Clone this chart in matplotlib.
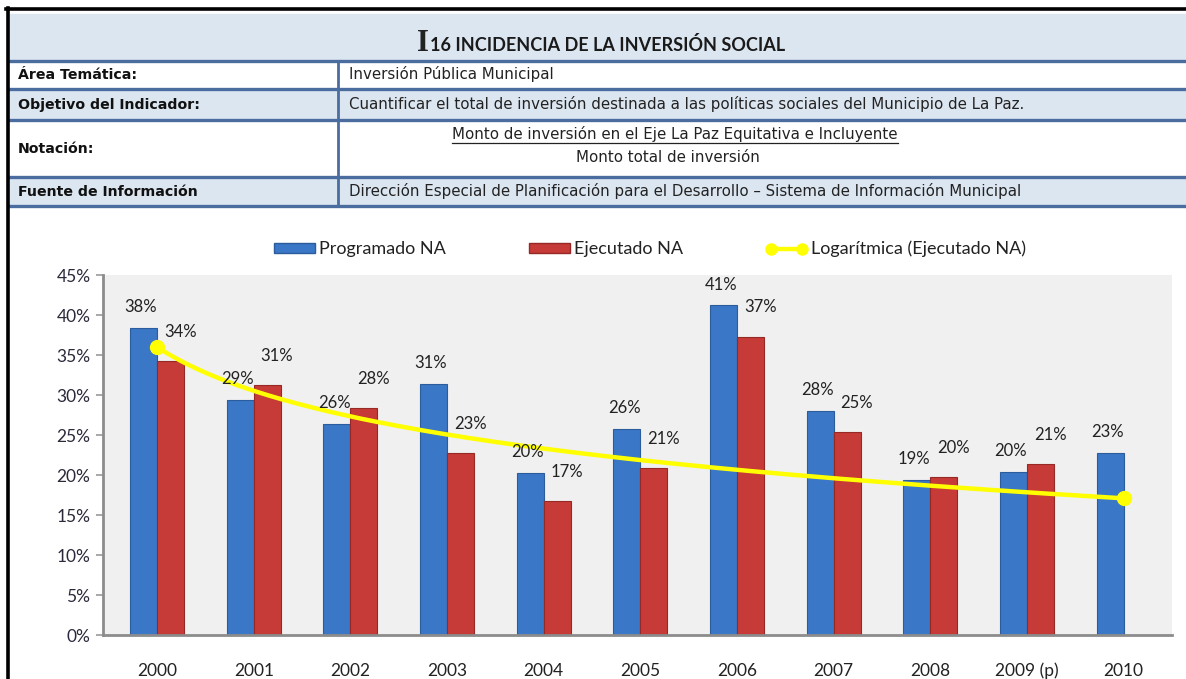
import numpy as np
import matplotlib
matplotlib.use('Agg')
import matplotlib.pyplot as plt
from matplotlib.patches import Rectangle, Patch
from matplotlib.lines import Line2D

plt.rcParams['font.family'] = ['Lato', 'DejaVu Sans']

# ── datos ────────────────────────────────────────────────────────────────────
YEARS      = ['2000', '2001', '2002', '2003', '2004', '2005', '2006', '2007',
              '2008', '2009 (p)', '2010']
PROGRAMADO = [38.4, 29.4, 26.4, 31.4, 20.3, 25.8, 41.2, 28.0, 19.4, 20.4, 22.8]
EJECUTADO  = [34.2, 31.2, 28.4, 22.7, 16.7, 20.9, 37.3, 25.4, 19.7, 21.4, None]
YTICKS     = [0, 5, 10, 15, 20, 25, 30, 35, 40, 45]

ROWS = [('Área Temática:', 'Inversión Pública Municipal'),
        ('Objetivo del Indicador:',
         'Cuantificar el total de inversión destinada a las políticas sociales del Municipio de La Paz.'),
        ('Notación:', None),
        ('Fuente de Información',
         'Dirección Especial de Planificación para el Desarrollo – Sistema de Información Municipal')]
NOT_NUM = 'Monto de inversión en el Eje La Paz Equitativa e Incluyente'
NOT_DEN = 'Monto total de inversión'

BLUE, RED, YEL = '#3a77c6', '#c63a37', '#ffff00'
HDR_BG, LINE_C = '#dce6f1', '#4a6c9e'
TFONT = ['DejaVu Sans']

W, H = 1186, 679
fig = plt.figure(figsize=(W / 100, H / 100), dpi=100)

def fx(x): return x / W
def fy(y): return 1 - y / H

# ── cabecera / tabla ─────────────────────────────────────────────────────────
# bandas de fondo (y en px: top, bottom, color)
bands = [(14, 61, HDR_BG), (61, 89, 'white'), (89, 120, HDR_BG),
         (120, 177, 'white'), (177, 206, HDR_BG)]
for y0, y1, c in bands:
    fig.patches.append(Rectangle((fx(9), fy(y1)), fx(W - 9), (y1 - y0) / H,
                                 transform=fig.transFigure, color=c, zorder=0))
for y in [61, 89, 120, 177, 206]:
    fig.add_artist(Line2D([fx(9), 1], [fy(y), fy(y)], color=LINE_C, lw=2.4))
fig.add_artist(Line2D([fx(338), fx(338)], [fy(61), fy(206)], color=LINE_C, lw=2.0))
# borde negro
fig.add_artist(Line2D([fx(7.5), fx(7.5)], [0, fy(8)], color='black', lw=2.6))
fig.add_artist(Line2D([fx(6), 1], [fy(8.5), fy(8.5)], color='black', lw=2.6))

fig.text(fx(429), fy(51), 'I', ha='right', va='baseline', family='Liberation Serif',
         fontsize=22, fontweight='bold', color='#222')
fig.text(fx(430), fy(51), '16 INCIDENCIA DE LA INVERSIÓN SOCIAL', ha='left', va='baseline',
         fontsize=13, fontweight='bold', color='#1a1a1a')

row_y = [75, 105, 149, 192]
for (lab, val), y in zip(ROWS, row_y):
    fig.text(fx(18), fy(y), lab, ha='left', va='center', fontsize=10.2,
             fontweight='bold', family=TFONT, color='#111')
    if val:
        fig.text(fx(349), fy(y - 1), val, ha='left', va='center', fontsize=10.8,
                 family=TFONT, color='#222')
t_num = fig.text(fx(675), fy(134), NOT_NUM, ha='center', va='center', fontsize=10.8,
                 family=TFONT, color='#222')
fig.text(fx(668), fy(157), NOT_DEN, ha='center', va='center', fontsize=10.8,
         family=TFONT, color='#222')
bb = t_num.get_window_extent(fig.canvas.get_renderer())
fig.add_artist(Line2D([bb.x0 / W, bb.x1 / W], [fy(142.5), fy(142.5)], color='#222', lw=0.9))

# ── gráfico ──────────────────────────────────────────────────────────────────
ax = fig.add_axes([fx(103), fy(635), fx(1172 - 103), (635 - 275) / H])
ax.set_facecolor('#f0f0f0')
x = np.arange(len(YEARS))
w = 0.28
prog = np.array(PROGRAMADO)
ejec_x = np.array([i for i, v in enumerate(EJECUTADO) if v is not None])
ejec = np.array([v for v in EJECUTADO if v is not None])

ax.bar(x - w / 2, prog, w, color=BLUE, edgecolor='#2b5c9c', lw=0.8, zorder=2)
ax.bar(ejec_x + w / 2, ejec, w, color=RED, edgecolor='#962826', lw=0.8, zorder=2)

for xi, v in zip(x, prog):
    ax.annotate(f'{v:.0f}%', (xi - w / 2, v), xytext=(-2, 15), textcoords='offset points',
                ha='center', va='center', fontsize=12, color='#222', zorder=5)
for xi, v in zip(ejec_x, ejec):
    ax.annotate(f'{v:.0f}%', (xi + w / 2, v), xytext=(7, 21), textcoords='offset points',
                ha='center', va='center', fontsize=12, color='#222', zorder=5)

# línea de tendencia logarítmica (Excel toma el 2010 vacío como 0)
xt = np.arange(1, len(YEARS) + 1)
yt = np.array([v if v is not None else 0.0 for v in EJECUTADO])
a, b = np.polyfit(np.log(xt), yt, 1)
xs = np.linspace(1, len(YEARS), 200)
ax.plot(xs - 1, a * np.log(xs) + b, color=YEL, lw=3.2, zorder=4, solid_capstyle='round')
ax.plot([0, len(YEARS) - 1], [b, a * np.log(len(YEARS)) + b], 'o', color=YEL, ms=10, zorder=4)

ax.set_xlim(-0.56, 10.5)
ax.set_ylim(0, 45)
ax.set_yticks(YTICKS)
ax.set_yticklabels([f'{t}%' for t in YTICKS])
ax.set_xticks(x)
ax.set_xticklabels(YEARS)
ax.tick_params(axis='y', length=5, width=1.2, color='#999', pad=4, labelsize=12.5,
               labelcolor='#2a2a3a')
ax.tick_params(axis='x', length=0, pad=20, labelsize=12.5, labelcolor='#222')
for s in ['top', 'right']:
    ax.spines[s].set_visible(False)
for s in ['left', 'bottom']:
    ax.spines[s].set_color('#8c8c8c')
    ax.spines[s].set_linewidth(2.0)

handles = [Patch(facecolor=BLUE, edgecolor='#2b5c9c'),
           Patch(facecolor=RED, edgecolor='#962826'),
           Line2D([], [], color=YEL, lw=3.2, marker='o', ms=8)]
fig.legend(handles, ['Programado NA', 'Ejecutado NA', 'Logarítmica (Ejecutado NA)'],
           loc='center', bbox_to_anchor=(fx(650), fy(249)), ncol=3, frameon=False,
           fontsize=13, handlelength=2.3, handleheight=0.5, handletextpad=0.2,
           columnspacing=4.6, numpoints=2, labelcolor='#222')

fig.savefig('out.png', dpi=100)
